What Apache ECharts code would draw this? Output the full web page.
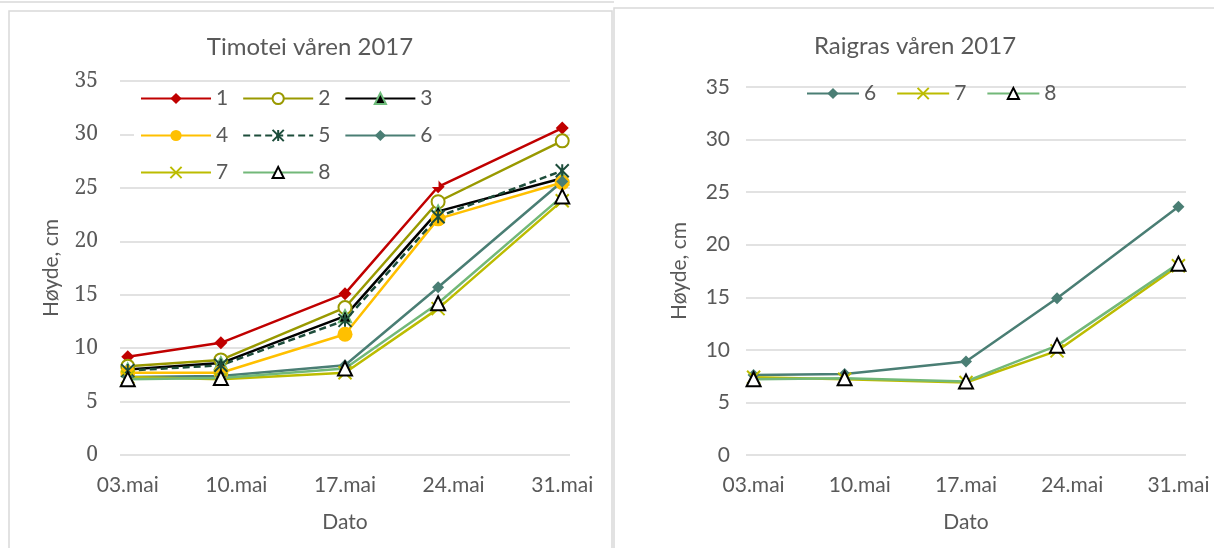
<!DOCTYPE html>
<html><head><meta charset="utf-8">
<script src="https://cdn.jsdelivr.net/npm/echarts@6/dist/echarts.min.js"></script>
<style>html,body{margin:0;padding:0;background:#fff}#c{width:1214px;height:548px}</style>
</head><body><div id="c"></div>
<script>
// ---- data ----
const sampleDays = [3, 9, 17, 23, 31];      // day of May for each measurement
const tickDays = [3, 10, 17, 24, 31];        // axis label days
const monthName = 'mai';
const leftTitle = 'Timotei våren 2017';
const rightTitle = 'Raigras våren 2017';
const leftNames = ['1', '2', '3', '4', '5', '6', '7', '8'];
const rightNames = ['6', '7', '8'];
// Timotei
const t1 = [9.2, 10.5, 15.1, 25.1, 30.6];
const t2 = [8.3, 8.9, 13.8, 23.7, 29.4];
const t3 = [8.0, 8.6, 13.0, 22.8, 25.9];
const t4 = [7.7, 7.7, 11.3, 22.1, 25.5];
const t5 = [7.9, 8.4, 12.6, 22.3, 26.6];
const t6 = [7.3, 7.4, 8.4, 15.7, 25.6];
const t7 = [7.3, 7.1, 7.7, 13.7, 23.8];
const t8 = [7.1, 7.2, 8.1, 14.2, 24.2];
// Raigras
const r6 = [7.6, 7.7, 8.9, 14.9, 23.6];
const r7 = [7.4, 7.2, 6.9, 9.9, 18.0];
const r8 = [7.2, 7.3, 7.0, 10.4, 18.2];

// ---- styles ----
const TXT = '#595959', GRID = '#d9d9d9';
const SANS = 'Lato';
const SERIF = '"Noto Serif", "DejaVu Serif", serif';
const st = {
  '1': {line: '#C00000', symbol: 'diamond', size: 13, item: {color: '#C00000'}},
  '2': {line: '#999900', symbol: 'emptyCircle', size: 13, item: {color: '#999900'}},
  '3': {line: '#000000', symbol: 'triangle', size: 13, item: {color: '#000000', borderColor: '#6DBB7A', borderWidth: 1.5}},
  '4': {line: '#FFC000', symbol: 'circle', size: 15, item: {color: '#FFC000'}},
  '5': {line: '#1D4D3B', type: [7, 4], symbol: 'path://M5,0L5,10M0,0L10,10M10,0L0,10', size: 13, item: {color: 'transparent', borderColor: '#1D4D3B', borderWidth: 2}},
  '6': {line: '#4A7E74', symbol: 'diamond', size: 12, item: {color: '#4A7E74'}},
  '7': {line: '#BCBC00', symbol: 'path://M0,0L10,10M10,0L0,10', size: 13, item: {color: 'transparent', borderColor: '#BCBC00', borderWidth: 2}},
  '8': {line: '#72B879', symbol: 'triangle', size: 14, item: {color: '#ffffff', borderColor: '#000000', borderWidth: 2}}
};

function mk(name, vals, idx) {
  const s = st[name];
  return {
    name: name, type: 'line', xAxisIndex: idx, yAxisIndex: idx,
    data: sampleDays.map((d, i) => [d, vals[i]]),
    symbol: s.symbol, symbolSize: s.size, showAllSymbol: true,
    lineStyle: {color: s.line, width: 2.5, type: s.type || 'solid'},
    itemStyle: s.item, emphasis: {disabled: true}, animation: false
  };
}

const fmtDay = v => String(v).padStart(2, '0') + '.' + monthName;

function xAx(idx) {
  return {
    type: 'value', gridIndex: idx, min: 2.5, max: 31.5,
    splitLine: {show: false}, axisLine: {show: false}, axisTick: {show: false},
    axisLabel: {customValues: tickDays, formatter: fmtDay, color: TXT, fontFamily: SANS, fontSize: 21, margin: 20},
    name: 'Dato', nameLocation: 'middle', nameGap: 57,
    nameTextStyle: {color: TXT, fontFamily: SANS, fontSize: 21}
  };
}
function yAx(idx, serif, gap) {
  const lab = serif
    ? {formatter: v => '{s|' + v + '}', margin: 22, color: TXT,
       rich: {s: {fontFamily: SERIF, fontSize: 21, color: TXT}}}
    : {color: TXT, fontFamily: SANS, fontSize: 21, margin: 16};
  return {
    type: 'value', gridIndex: idx, min: 0, max: 35, interval: 5,
    axisLine: {show: false}, axisTick: {show: false},
    splitLine: {lineStyle: {color: GRID, width: 1.5}},
    axisLabel: lab,
    name: 'Høyde, cm', nameLocation: 'middle', nameGap: gap,
    nameTextStyle: {color: TXT, fontFamily: SANS, fontSize: 21}
  };
}

const series = [
  mk('1', t1, 0), mk('2', t2, 0), mk('3', t3, 0), mk('4', t4, 0),
  mk('5', t5, 0), mk('6', t6, 0), mk('7', t7, 0), mk('8', t8, 0),
  mk('6', r6, 1), mk('7', r7, 1), mk('8', r8, 1)
];

const chart = echarts.init(document.getElementById('c'), null, {renderer: 'canvas'});
chart.setOption({
  animation: false,
  backgroundColor: '#fff',
  grid: [
    {left: 120, top: 81, width: 450, height: 374},
    {left: 746, top: 87, width: 440, height: 368}
  ],
  xAxis: [xAx(0), xAx(1)],
  yAxis: [yAx(0, true, 58), yAx(1, false, 56)],
  legend: [
    {data: leftNames, left: 134, top: 84, width: 310, itemWidth: 70, itemHeight: 14, itemGap: 14,
     padding: [3, 6], backgroundColor: '#fff',
     textStyle: {color: TXT, fontFamily: SANS, fontSize: 21, lineHeight: 23}},
    {data: rightNames, left: 806, top: 83, itemWidth: 52, itemHeight: 14, itemGap: 20,
     padding: 0, textStyle: {color: TXT, fontFamily: SANS, fontSize: 21}}
  ],
  graphic: [
    {type: 'line', shape: {x1: 0, y1: 2, x2: 614, y2: 2}, style: {stroke: GRID, lineWidth: 1.5}, silent: true},
    {type: 'rect', shape: {x: 9, y: 11, width: 603, height: 600}, style: {fill: 'none', stroke: GRID, lineWidth: 1.5}, silent: true},
    {type: 'rect', shape: {x: 614, y: 8, width: 700, height: 600}, style: {fill: 'none', stroke: GRID, lineWidth: 1.5}, silent: true},
    {type: 'text', x: 310, y: 47, style: {text: leftTitle, fill: TXT, font: '24px Lato', align: 'center', verticalAlign: 'middle'}, silent: true},
    {type: 'text', x: 915, y: 46, style: {text: rightTitle, fill: TXT, font: '24px Lato', align: 'center', verticalAlign: 'middle'}, silent: true}
  ],
  series: series
});
</script>
</body></html>
